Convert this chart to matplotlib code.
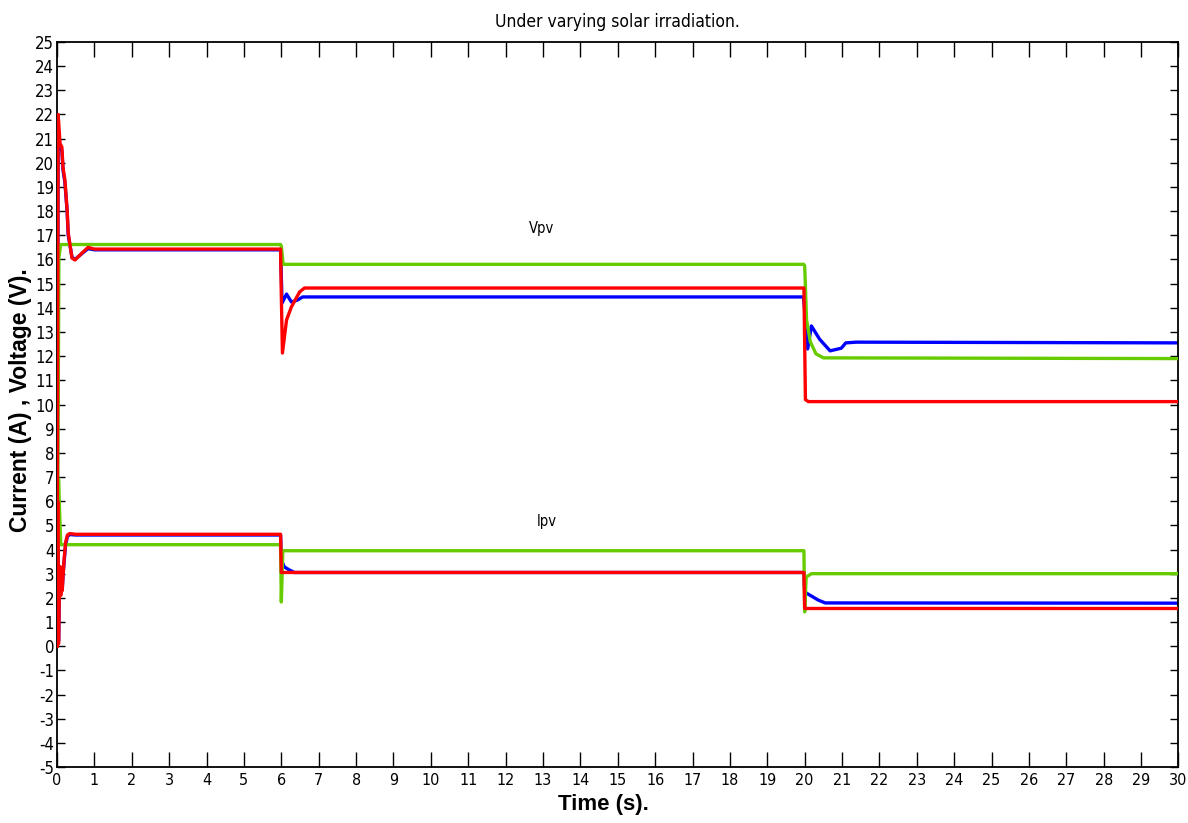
import matplotlib
matplotlib.use("Agg")
import matplotlib.pyplot as plt
from matplotlib.ticker import MultipleLocator

plt.rcParams["axes.unicode_minus"] = False

# ---- data (time in s) ----
# Vpv traces
t_vpv_green = [0, 0.05, 0.1, 5.98, 6.0, 6.05, 19.97, 20.0, 20.05, 20.15, 20.3, 20.5, 30]
vpv_green = [0, 16.1, 16.62, 16.62, 16.55, 15.8, 15.8, 15.75, 13.5, 12.6, 12.1, 11.93, 11.9]

t_vpv_red = [0, 0.03, 0.08, 0.13, 0.16, 0.21, 0.27, 0.3, 0.4, 0.48, 0.67, 0.83, 1.0,
             5.98, 6.0, 6.03, 6.14, 6.27, 6.49, 6.62, 19.98, 20.02, 20.1, 30]
vpv_red = [0, 22.0, 20.8, 20.65, 19.8, 19.3, 18.05, 17.1, 16.06, 15.98, 16.27, 16.5, 16.43,
           16.43, 14.5, 12.13, 13.5, 14.04, 14.66, 14.82, 14.82, 10.2, 10.12, 10.12]

t_vpv_blue = [0, 0.03, 0.08, 0.13, 0.16, 0.21, 0.27, 0.3, 0.4, 0.48, 0.67, 0.83, 1.0,
              5.98, 6.02, 6.14, 6.27, 6.43, 6.57, 19.97, 20.02, 20.08, 20.18, 20.4,
              20.68, 20.98, 21.1, 21.38, 30]
vpv_blue = [0, 21.5, 20.6, 20.5, 19.7, 19.2, 18.0, 17.0, 16.1, 16.0, 16.25, 16.45, 16.4,
            16.4, 14.2, 14.57, 14.24, 14.32, 14.45, 14.45, 13.5, 12.3, 13.25, 12.7,
            12.22, 12.33, 12.55, 12.58, 12.55]

# Ipv traces
t_ipv_green = [0, 0.04, 0.1, 5.98, 6.0, 6.04, 19.98, 20.0, 20.04, 20.18, 30]
ipv_green = [0, 6.9, 4.2, 4.2, 1.83, 3.95, 3.95, 1.42, 2.86, 3.0, 3.0]

t_ipv_red = [0, 0.02, 0.04, 0.06, 0.08, 0.1, 0.12, 0.14, 0.16, 0.19, 0.23, 0.28, 0.34, 0.5,
             5.98, 6.0, 19.98, 20.0, 30]
ipv_red = [0, 6.0, 0.1, 2.0, 3.3, 2.1, 3.0, 2.3, 2.9, 3.6, 4.3, 4.6, 4.66, 4.63,
           4.63, 3.05, 3.05, 1.56, 1.56]

t_ipv_blue = [0, 0.02, 0.04, 0.06, 0.08, 0.1, 0.12, 0.14, 0.16, 0.19, 0.23, 0.28, 0.34, 0.5,
              5.98, 6.0, 6.08, 6.22, 6.35, 19.98, 20.0, 20.36, 20.55, 30]
ipv_blue = [0, 5.8, 0.2, 2.1, 3.2, 2.2, 2.9, 2.4, 2.9, 3.5, 4.2, 4.55, 4.62, 4.6,
            4.6, 3.57, 3.28, 3.15, 3.05, 3.05, 2.24, 1.91, 1.79, 1.78]

GREEN = "#66CC00"
RED = "#FF0000"
BLUE = "#0000FF"

narrow = ["DejaVu Sans"]
bold_font = ["Liberation Sans", "DejaVu Sans"]

fig = plt.figure(figsize=(11.88, 8.23), dpi=100)
ax = fig.add_axes([0.048, 0.068, 0.944, 0.881])

lw = 2.4
ax.plot(t_vpv_blue, vpv_blue, color=BLUE, lw=lw, zorder=2)
ax.plot(t_ipv_blue, ipv_blue, color=BLUE, lw=lw, zorder=2)
ax.plot(t_vpv_green, vpv_green, color=GREEN, lw=lw, zorder=3)
ax.plot(t_ipv_green, ipv_green, color=GREEN, lw=lw, zorder=3)
ax.plot(t_vpv_red, vpv_red, color=RED, lw=lw, zorder=4)
ax.plot(t_ipv_red, ipv_red, color=RED, lw=lw, zorder=4)

ax.text(12.62, 17.3, "Vpv", family=narrow, stretch="condensed", fontsize=10.5,
        va="center", ha="left")
ax.text(12.84, 5.14, "Ipv", family=narrow, stretch="condensed", fontsize=10.5,
        va="center", ha="left")

ax.set_xlim(0, 30)
ax.set_ylim(-5, 25)
ax.xaxis.set_major_locator(MultipleLocator(1))
ax.yaxis.set_major_locator(MultipleLocator(1))
ax.tick_params(axis="both", direction="in", top=True, right=True, width=1.0,
               labelsize=12, pad=3)
ax.tick_params(axis="x", length=11, pad=4, labelsize=11.5)
ax.tick_params(axis="y", length=6, pad=2)
for lab in ax.get_xticklabels() + ax.get_yticklabels():
    lab.set_family(narrow)
    lab.set_stretch("condensed")
for sp in ax.spines.values():
    sp.set_linewidth(1.3)

ax.set_title("Under varying solar irradiation.", family=narrow, stretch="condensed",
             fontsize=12.5, pad=11)
ax.set_xlabel("Time (s).", family=bold_font, fontweight="bold", fontsize=16)
ax.set_ylabel("Current (A) , Voltage (V).", family=bold_font, fontweight="bold",
              fontsize=16.5)
ax.xaxis.set_label_coords(0.487, -0.052)
ax.xaxis.label.set_va("center")
ax.yaxis.set_label_coords(-0.033, 0.506)
ax.yaxis.label.set_va("center")

fig.savefig("out.png", dpi=100)
plt.close(fig)
